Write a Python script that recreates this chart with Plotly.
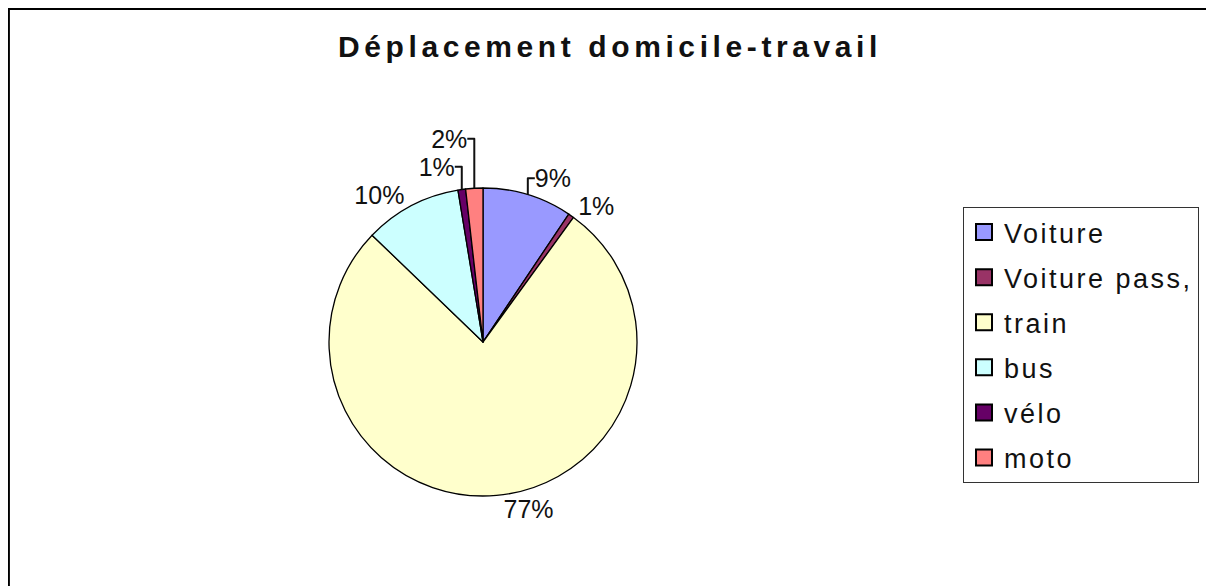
import plotly.graph_objects as go

categories = ["Voiture", "Voiture pass,", "train", "bus", "vélo", "moto"]
values = [9.4, 0.6, 77.2, 10.2, 0.8, 1.8]
colors = ["#9999FF", "#993366", "#FFFFCC", "#CCFFFF", "#660066", "#FF8080"]
title = "Déplacement domicile-travail"

# page body adds an 8px offset; size the figure so it lines up with the frame
OFF = 8
W, H = 1214 - OFF, 586 - OFF
cx, cy, r = 483 - OFF, 342 - OFF, 154

FONT = "Liberation Sans"


def spaced(t, px):
    return f'<span style="letter-spacing:{px}px">{t}</span>'


fig = go.Figure()
fig.add_trace(go.Pie(
    labels=categories, values=values, sort=False, direction="clockwise", rotation=0,
    marker=dict(colors=colors, line=dict(color="black", width=1.3)),
    texttemplate="%{percent:.0%}", textposition="outside",
    outsidetextfont=dict(family=FONT, size=25, color="#111"),
    showlegend=False, hoverinfo="label+percent",
    domain=dict(x=[(cx - r) / W, (cx + r) / W], y=[(H - cy - r) / H, (H - cy + r) / H]),
))

# legend entries (one per category, spaced like the original legend box)
for i, (c, col) in enumerate(zip(categories, colors)):
    fig.add_trace(go.Scatter(
        x=[None], y=[None], mode="markers", name=spaced(c, 2.5), legendgroup=f"g{i}",
        marker=dict(symbol="square", size=16, color=col, line=dict(color="black", width=2)),
        showlegend=True, hoverinfo="skip",
    ))

fig.update_layout(
    width=W, height=H, margin=dict(l=0, r=0, t=0, b=0),
    paper_bgcolor="white", plot_bgcolor="white",
    xaxis=dict(visible=False), yaxis=dict(visible=False),
    title=dict(text=f"<b>{spaced(title, 4.6)}</b>", x=(610 - OFF) / W, xanchor="center",
               y=1 - (46 - OFF) / H, yanchor="middle",
               font=dict(family=FONT, size=30, color="#111")),
    legend=dict(x=(963 - OFF) / W, y=1 - (207 - OFF) / H, xanchor="left", yanchor="top",
                bordercolor="#333", borderwidth=1, bgcolor="white",
                font=dict(family=FONT, size=27, color="#111"),
                tracegroupgap=7, itemsizing="trace"),
    shapes=[dict(type="rect", xref="paper", yref="paper", x0=0.9 / W, x1=1.02, y0=-0.02, y1=1 - 0.9 / H,
                 line=dict(color="black", width=2))],
)

fig.write_html("out.html")
